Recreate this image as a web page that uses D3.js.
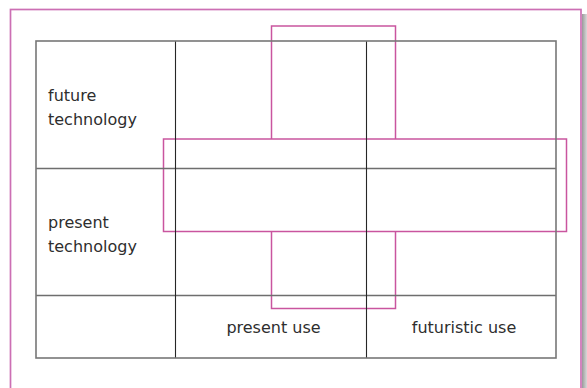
<!DOCTYPE html>
<html>
<head>
<meta charset="utf-8">
<script src="https://cdn.jsdelivr.net/npm/d3@7"></script>
<style>
  html, body { margin: 0; padding: 0; background: #fff; }
  svg { display: block; }
</style>
</head>
<body>
<svg id="chart" width="587" height="388"></svg>
<script>
// ---- data ----
const rowLabels = [["future", "technology"], ["present", "technology"], []];
const colLabels = ["", "present use", "futuristic use"];
// relative sizes of the grid tracks
const colWeights = [139, 191, 190];
const rowWeights = [127, 127, 63];

// ---- layout ----
const W = 587, H = 388;
const grid = { x0: 36, y0: 41, x1: 556, y1: 358 };
const pink = "#c9559f";

const svg = d3.select("#chart");

// shadow gradient
const defs = svg.append("defs");
const g1 = defs.append("linearGradient").attr("id", "shadow").attr("x1", 0).attr("x2", 1).attr("y1", 0).attr("y2", 0);
g1.append("stop").attr("offset", "0%").attr("stop-color", "#9a9a9a");
g1.append("stop").attr("offset", "100%").attr("stop-color", "#e6e6e6");

svg.append("rect").attr("x", 582).attr("y", 14).attr("width", 6).attr("height", H)
  .attr("fill", "url(#shadow)");

// outer frame
svg.append("rect").attr("x", 10.5).attr("y", 9.5).attr("width", 570.5).attr("height", 420)
  .attr("fill", "#fff").attr("stroke", "#cc6fb4").attr("stroke-width", 1.7);

// scales for tracks
function cumul(w) { const c = [0]; w.forEach(v => c.push(c[c.length - 1] + v)); return c; }
const colC = cumul(colWeights), rowC = cumul(rowWeights);
const x = d3.scaleLinear().domain([0, colC[colC.length - 1]]).range([grid.x0, grid.x1]);
const y = d3.scaleLinear().domain([0, rowC[rowC.length - 1]]).range([grid.y0, grid.y1]);
const colEdges = colC.map(v => Math.round(x(v)));
const rowEdges = rowC.map(v => Math.round(y(v)));

// cross highlight (vertical band then horizontal band)
const vRect = { x0: 271.5, x1: 395.5, y0: 26, y1: 308.5 };
const hRect = { x0: 163.5, x1: 566.5, y0: 139, y1: 231.5 };
svg.append("rect").attr("x", vRect.x0).attr("y", vRect.y0)
  .attr("width", vRect.x1 - vRect.x0).attr("height", vRect.y1 - vRect.y0)
  .attr("fill", "none").attr("stroke", pink).attr("stroke-width", 1.5);
svg.append("rect").attr("x", hRect.x0).attr("y", hRect.y0)
  .attr("width", hRect.x1 - hRect.x0).attr("height", hRect.y1 - hRect.y0)
  .attr("fill", "#fff").attr("stroke", pink).attr("stroke-width", 1.5);

// grid: horizontal lines
svg.append("g").selectAll("line").data(rowEdges.slice(1, -1)).join("line")
  .attr("x1", grid.x0).attr("x2", grid.x1)
  .attr("y1", d => d + 0.5).attr("y2", d => d + 0.5)
  .attr("stroke", "#6e6e6e").attr("stroke-width", 1.6);
// inner vertical lines
svg.append("g").selectAll("line").data(colEdges.slice(1, -1)).join("line")
  .attr("x1", d => d + 0.5).attr("x2", d => d + 0.5)
  .attr("y1", grid.y0).attr("y2", grid.y1)
  .attr("stroke", "#262626").attr("stroke-width", 1.1);
// outer grid border
svg.append("rect").attr("x", grid.x0).attr("y", grid.y0)
  .attr("width", grid.x1 - grid.x0).attr("height", grid.y1 - grid.y0)
  .attr("fill", "none").attr("stroke", "#777").attr("stroke-width", 1.6);

// row labels
const font = "'DejaVu Sans', Verdana, sans-serif";
rowLabels.forEach((lines, i) => {
  const mid = (rowEdges[i] + rowEdges[i + 1]) / 2;
  const t = svg.append("text").attr("font-family", font).attr("font-size", 16)
    .attr("fill", "#2e2e2e");
  lines.forEach((ln, j) => {
    t.append("tspan").attr("x", grid.x0 + 12)
      .attr("y", mid + (j - (lines.length - 1) / 2) * 24 + 8).text(ln);
  });
});

// column labels (bottom row)
const lastRow = rowEdges.length - 2;
colLabels.forEach((lab, i) => {
  if (!lab) return;
  svg.append("text").attr("font-family", font).attr("font-size", 16).attr("fill", "#2e2e2e")
    .attr("text-anchor", "middle")
    .attr("x", (colEdges[i] + colEdges[i + 1]) / 2 + 3)
    .attr("y", (rowEdges[lastRow] + rowEdges[lastRow + 1]) / 2 + 6)
    .text(lab);
});
</script>
</body>
</html>
